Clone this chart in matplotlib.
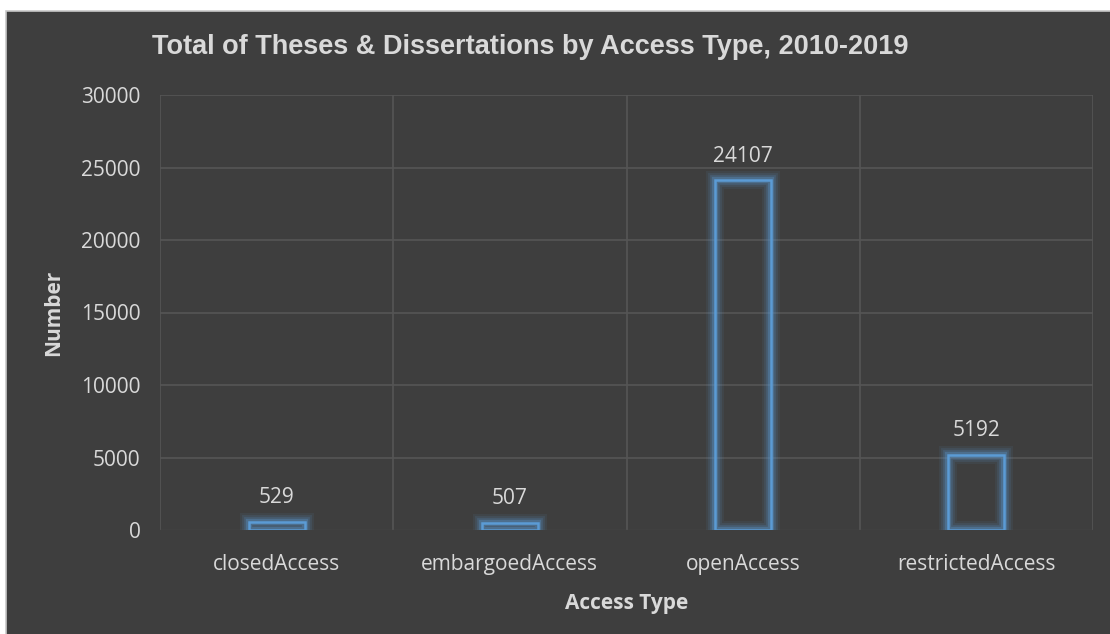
import matplotlib
matplotlib.use("Agg")
import matplotlib.pyplot as plt
from matplotlib.patches import Rectangle
import matplotlib.patheffects as pe

categories = ["closedAccess", "embargoedAccess", "openAccess", "restrictedAccess"]
values = [529, 507, 24107, 5192]
yticks = [0, 5000, 10000, 15000, 20000, 25000, 30000]

BG = "#3e3e3e"
GRID = "#555555"
TXT = "#d9d9d9"
BAR = "#5b9bd5"

fig = plt.figure(figsize=(11.1, 6.34), dpi=100)
fig.patch.set_facecolor("white")
W, H = 1110, 634
frame = Rectangle((6 / W, -0.01), 1.02 - 6 / W, 1.01 - 11 / H, transform=fig.transFigure,
                  facecolor=BG, edgecolor="#c8c8c8", linewidth=1.2, zorder=-5)
fig.add_artist(frame)

ax = fig.add_axes([160 / W, 1 - 530 / H, (1093 - 160) / W, (530 - 95) / H])
ax.set_facecolor(BG)
ax.patch.set_alpha(0)

x = list(range(len(categories)))
bars = ax.bar(x, values, width=0.24, facecolor="none", edgecolor=BAR, linewidth=1.8, zorder=3)
glow = [pe.Stroke(linewidth=13, foreground=BAR, alpha=0.08),
        pe.Stroke(linewidth=10, foreground=BAR, alpha=0.12),
        pe.Stroke(linewidth=7, foreground=BAR, alpha=0.18),
        pe.Stroke(linewidth=4.5, foreground=BAR, alpha=0.3),
        pe.Normal()]
for b in bars:
    b.set_path_effects(glow)

ax.set_xlim(-0.5, len(categories) - 0.5)
ax.set_ylim(0, 30000)
ax.set_yticks(yticks)
ax.set_yticklabels([str(v) for v in yticks])
ax.set_xticks(x)
ax.set_xticklabels(categories)

# grid: horizontal lines and vertical category separators
ax.grid(False)
for v in yticks[1:]:
    ax.axhline(v, color=GRID, linewidth=1.2, zorder=1)
for i in range(len(categories) + 1):
    ax.axvline(i - 0.5, color=GRID, linewidth=1.2, zorder=1)
ax.axhline(0, color="#4a4a4a", linewidth=1.0, zorder=1)

for s in ax.spines.values():
    s.set_visible(False)
ax.tick_params(length=0, colors=TXT, labelsize=15)
ax.tick_params(axis="y", pad=14)
ax.tick_params(axis="x", pad=17)
for lab in ax.get_xticklabels() + ax.get_yticklabels():
    lab.set_fontfamily("Open Sans")
    lab.set_color(TXT)

for xi, v in zip(x, values):
    ax.annotate(str(v), (xi, v), xytext=(0, 10), textcoords="offset points",
                ha="center", va="bottom", fontsize=15, color=TXT, family="Open Sans")

ax.set_ylabel("Number", fontsize=15, fontweight="bold", color=TXT, family="Open Sans", labelpad=12)
ax.set_xlabel("Access Type", fontsize=15, fontweight="bold", color=TXT, family="Open Sans", labelpad=13)

fig.text(530 / W, 1 - 47 / H, "Total of Theses & Dissertations by Access Type, 2010-2019",
         ha="center", va="center", fontsize=19.5, fontweight="bold", color=TXT, family="Liberation Sans")

fig.savefig("out.png", dpi=100, facecolor=fig.get_facecolor())
